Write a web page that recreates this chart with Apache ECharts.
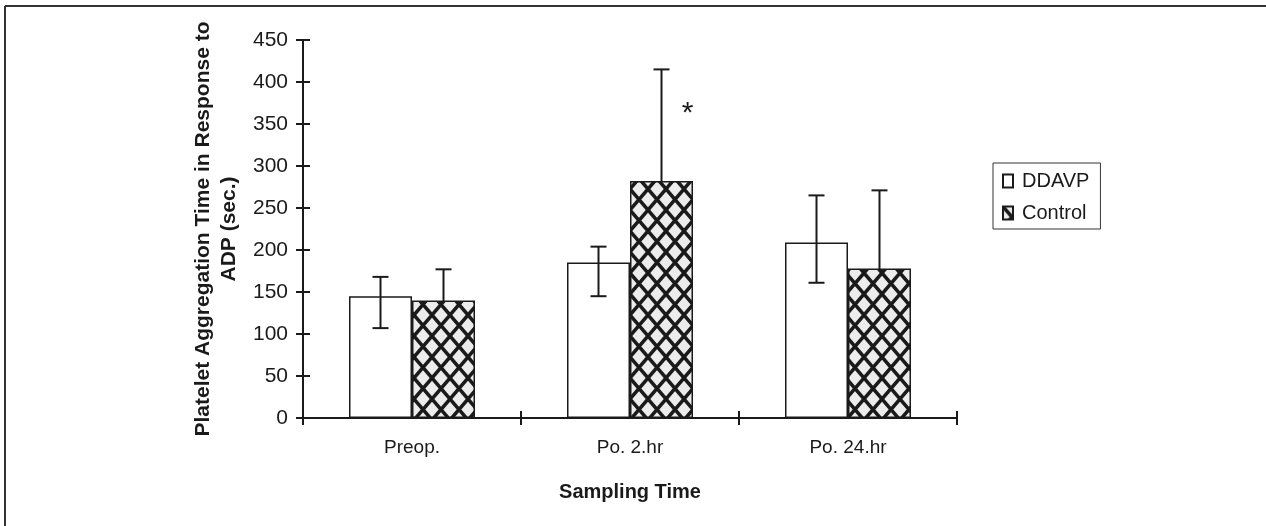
<!DOCTYPE html>
<html>
<head>
    <meta charset="UTF-8">
    <script src="https://cdn.jsdelivr.net/npm/echarts@6/dist/echarts.min.js"></script>
    <title>Platelet Aggregation Time</title>
    <style>
        html, body { margin: 0; padding: 0; background: #fff; }
        #main { width: 1266px; height: 526px; }
    </style>
</head>
<body>
<div id="main"></div>
<script>
    // values
    var categories = ['Preop.', 'Po. 2.hr', 'Po. 24.hr'];
    var ddavpMean = [145, 185, 209];
    var ddavpLow = [107, 145, 161];
    var ddavpHigh = [168, 204, 265];
    var controlMean = [140, 282, 178];
    var controlLow = [103, 149, 85];
    var controlHigh = [177, 415, 271];
    var yTicks = {min: 0, max: 450, interval: 50};

    var font = '"Liberation Sans", Arial, sans-serif';
    var ink = '#1a1a1a';

    // cross hatch for the control bars
    var hatch = document.createElement('canvas');
    var hw = 18, hh = 21;
    hatch.width = hw;
    hatch.height = hh;
    var ctx = hatch.getContext('2d');
    ctx.fillStyle = '#ececec';
    ctx.fillRect(0, 0, hw, hh);
    ctx.strokeStyle = '#1a1a1a';
    ctx.lineWidth = 3.5;
    for (var k = -1; k <= 1; k++) {
        ctx.beginPath();
        ctx.moveTo(k * hw, 0); ctx.lineTo(k * hw + hw, hh);
        ctx.moveTo(k * hw + hw, 0); ctx.lineTo(k * hw, hh);
        ctx.stroke();
    }

    function errData(low, high) {
        return low.map(function (v, i) { return [i, v, high[i]]; });
    }

    function errSeries(name, low, high, off, z) {
        return {
            name: name + ' err',
            type: 'custom',
            z: z,
            silent: true,
            encode: {x: 0, y: [1, 2]},
            data: errData(low, high),
            renderItem: function (params, api) {
                var lo = api.coord([api.value(0), api.value(1)]);
                var hi = api.coord([api.value(0), api.value(2)]);
                var x = lo[0] + off;
                var cap = 8;
                var st = {stroke: ink, lineWidth: 2};
                return {
                    type: 'group',
                    children: [
                        {type: 'line', shape: {x1: x, y1: lo[1], x2: x, y2: hi[1]}, style: st},
                        {type: 'line', shape: {x1: x - cap, y1: hi[1], x2: x + cap, y2: hi[1]}, style: st},
                        {type: 'line', shape: {x1: x - cap, y1: lo[1], x2: x + cap, y2: lo[1]}, style: st}
                    ]
                };
            }
        };
    }

    var myChart = echarts.init(document.getElementById('main'));
    myChart.setOption({
        backgroundColor: '#fff',
        animation: false,
        textStyle: {fontFamily: font, color: ink},
        grid: {left: 303, right: 309, top: 40, bottom: 108},
        legend: {
            data: ['DDAVP', 'Control'],
            orient: 'vertical',
            left: 993,
            top: 163,
            padding: [8, 11, 6, 9],
            itemGap: 12,
            itemWidth: 10,
            itemHeight: 13,
            icon: 'rect',
            borderColor: '#333',
            borderWidth: 1,
            textStyle: {fontSize: 20, color: ink, fontFamily: font, padding: [0, 0, 0, 4]}
        },
        xAxis: [{
            type: 'category',
            data: categories,
            boundaryGap: true,
            axisLine: {lineStyle: {color: ink, width: 2}},
            axisTick: {show: true, alignWithLabel: false, length: 7, lineStyle: {color: ink, width: 2}},
            axisLabel: {fontSize: 19, color: ink, margin: 20, fontFamily: font},
            name: 'Sampling Time',
            nameLocation: 'middle',
            nameGap: 64,
            nameTextStyle: {fontSize: 20, fontWeight: 'bold', color: ink, fontFamily: font}
        }, {
            type: 'category',
            data: categories,
            position: 'bottom',
            boundaryGap: true,
            axisLine: {show: false},
            axisTick: {show: true, inside: true, length: 7, lineStyle: {color: ink, width: 2}},
            axisLabel: {show: false}
        }],
        yAxis: [{
            type: 'value',
            min: yTicks.min,
            max: yTicks.max,
            interval: yTicks.interval,
            splitLine: {show: false},
            axisLine: {show: true, lineStyle: {color: ink, width: 2}},
            axisTick: {show: true, length: 7, lineStyle: {color: ink, width: 2}},
            axisLabel: {fontSize: 21, color: ink, margin: 15, fontFamily: font},
            name: 'Platelet Aggregation Time in Response to\nADP (sec.)',
            nameLocation: 'middle',
            nameRotate: 90,
            nameGap: 58,
            nameTextStyle: {fontSize: 21, fontWeight: 'bold', color: ink, lineHeight: 26, fontFamily: font}
        }, {
            type: 'value',
            position: 'left',
            min: yTicks.min,
            max: yTicks.max,
            interval: yTicks.interval,
            splitLine: {show: false},
            axisLine: {show: false},
            axisTick: {show: true, inside: true, length: 7, lineStyle: {color: ink, width: 2}},
            axisLabel: {show: false}
        }],
        series: [
            {
                name: 'DDAVP',
                type: 'bar',
                data: ddavpMean,
                barWidth: 63,
                barGap: '0%',
                itemStyle: {color: '#fff', borderColor: ink, borderWidth: 1.5}
            },
            {
                name: 'Control',
                type: 'bar',
                data: controlMean,
                barWidth: 63,
                barGap: '0%',
                itemStyle: {color: {image: hatch, repeat: 'repeat'}, borderColor: ink, borderWidth: 1.5},
                markPoint: {
                    symbol: 'circle',
                    symbolSize: 1,
                    itemStyle: {color: 'transparent'},
                    label: {show: true, formatter: '*', fontSize: 30, color: ink, offset: [26, 5], fontFamily: font},
                    data: [{coord: ['Po. 2.hr', 368]}]
                }
            },
            errSeries('DDAVP', ddavpLow, ddavpHigh, -31.5, 5),
            errSeries('Control', controlLow, controlHigh, 31.5, 1)
        ],
        graphic: [
            {type: 'line', shape: {x1: 5, y1: 6, x2: 1266, y2: 6}, style: {stroke: '#333', lineWidth: 2}},
            {type: 'line', shape: {x1: 5, y1: 6, x2: 5, y2: 526}, style: {stroke: '#333', lineWidth: 2}}
        ]
    });
</script>
</body>
</html>
